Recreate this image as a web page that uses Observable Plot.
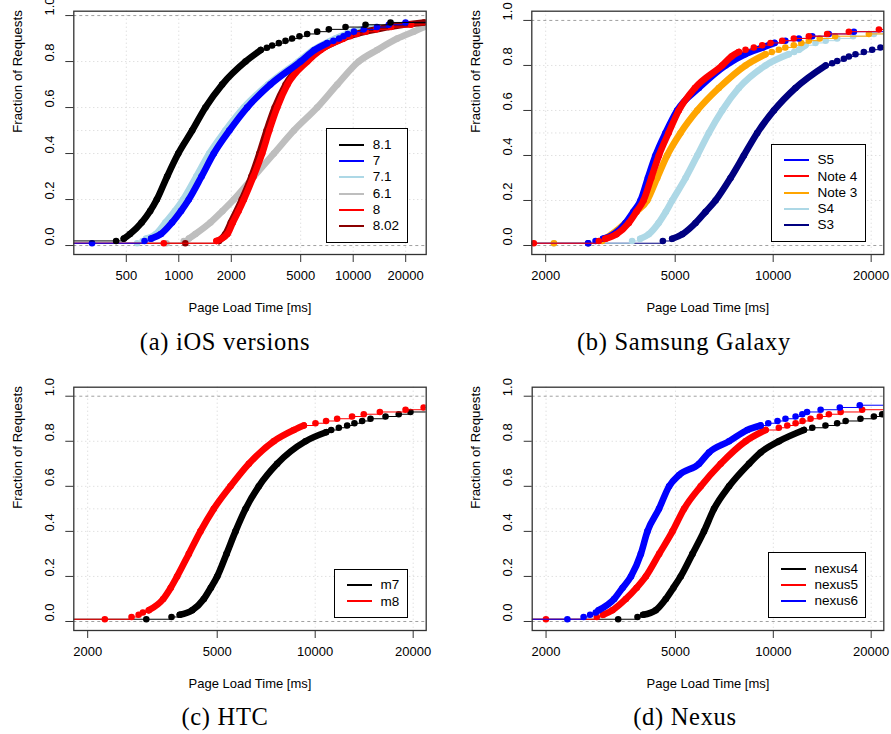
<!DOCTYPE html>
<html><head><meta charset="utf-8">
<script src="https://cdn.jsdelivr.net/npm/d3@7"></script>
<script src="https://cdn.jsdelivr.net/npm/@observablehq/plot@0.6"></script>
<style>
body{margin:0;background:#fff}
#fig{position:relative;width:891px;height:734px;overflow:hidden;background:#fff;font-family:"Liberation Sans",Arial,sans-serif}
.panel{position:absolute}
.legend{position:absolute;border:1px solid #000;background:#fff;box-sizing:border-box}
.legend .sw{position:absolute;height:0;border-top:2.2px solid}
.legend .lb{position:absolute;font-size:13.5px;line-height:1;transform:translateY(-50%);white-space:nowrap;color:#000}
.caption{position:absolute;font-family:"Liberation Serif","Times New Roman",serif;font-size:24.5px;letter-spacing:0.7px;transform:translate(-50%,-50%);white-space:nowrap;color:#000}
</style></head><body><div id="fig"></div><script>
// ---------- tick labels / grid ----------
const xTicksIOS = [500, 1000, 2000, 5000, 10000, 20000];
const xTicksDev = [2000, 5000, 10000, 20000];
const yTicks = [0, 0.2, 0.4, 0.6, 0.8, 1.0];
const yGrid = [0.2, 0.4, 0.5, 0.6, 0.8];

// ---------- (a) iOS versions: [load time ms, fraction] ----------
const ios81 = [[437,0.02],[484,0.03],[525,0.05],[612,0.1],[685,0.15],[748,0.2],[857,0.3],[993,0.4],[1193,0.5],[1421,0.6],[1772,0.7],[2413,0.8],[2950,0.85],[3200,0.86],[3431,0.87],[3746,0.88],[4091,0.89],[4467,0.90],[4921,0.91],[5447,0.92],[6217,0.93],[7252,0.94],[9036,0.95],[11770,0.96],[16370,0.97]];
const ios7 = [[318,0.01],[636,0.02],[694,0.03],[790,0.05],[915,0.1],[1030,0.15],[1141,0.2],[1350,0.3],[1587,0.4],[1950,0.5],[2465,0.6],[3350,0.7],[4986,0.8],[6000,0.85],[7100,0.88],[7700,0.89],[8300,0.90],[8800,0.91],[9300,0.92],[10100,0.93],[11500,0.94],[13700,0.95],[16000,0.96],[19960,0.97]];
const ios71 = [[577,0.01],[620,0.02],[650,0.03],[740,0.05],[838,0.1],[950,0.15],[1059,0.2],[1260,0.3],[1495,0.4],[1850,0.5],[2360,0.6],[3250,0.7],[4850,0.8],[5900,0.85],[7900,0.9],[10000,0.93],[13500,0.95],[17000,0.96]];
const ios61 = [[850,0.01],[1068,0.02],[1141,0.03],[1246,0.05],[1519,0.1],[1780,0.15],[2069,0.2],[2693,0.3],[3508,0.4],[4571,0.5],[6217,0.6],[8111,0.7],[10750,0.8],[13700,0.85],[17920,0.9],[22200,0.93],[25460,0.95]];
const ios8 = [[820,0.01],[1645,0.02],[1900,0.05],[2040,0.1],[2200,0.15],[2360,0.2],[2680,0.3],[3005,0.4],[3300,0.5],[3665,0.6],[4200,0.7],[5450,0.8],[6500,0.85],[7600,0.88],[8800,0.90],[9600,0.91],[10500,0.92],[11800,0.93],[13600,0.94],[16500,0.95],[21500,0.96]];
const ios802 = [[1090,0.01],[1700,0.02],[1850,0.05],[1990,0.1],[2300,0.2],[2610,0.3],[2900,0.4],[3190,0.5],[3550,0.6],[4100,0.7],[5300,0.8],[8700,0.9],[16000,0.95],[25500,0.97]];

// ---------- (b) Samsung Galaxy ----------
const galS5 = [[2700,0.01],[2846,0.02],[3000,0.03],[3240,0.05],[3518,0.1],[3720,0.15],[3913,0.2],[4122,0.3],[4351,0.4],[4669,0.5],[5069,0.6],[5912,0.7],[7138,0.8],[8200,0.85],[9300,0.88],[10100,0.90],[10900,0.91],[11990,0.92],[13180,0.93],[14820,0.94],[17700,0.95]];
const galNote4 = [[1839,0.01],[2913,0.02],[3050,0.03],[3300,0.05],[3600,0.1],[3800,0.15],[3996,0.2],[4220,0.3],[4455,0.4],[4770,0.5],[5128,0.6],[5750,0.7],[6970,0.8],[7450,0.84],[7845,0.86],[8223,0.87],[8722,0.88],[9252,0.89],[9813,0.90],[10660,0.91],[11576,0.92],[12870,0.93],[14650,0.94],[17080,0.95],[21130,0.96]];
const galNote3 = [[2120,0.01],[2982,0.02],[3050,0.03],[3195,0.05],[3518,0.1],[3800,0.15],[4100,0.2],[4400,0.3],[4721,0.4],[5190,0.5],[5845,0.6],[6810,0.7],[8223,0.8],[9472,0.85],[9900,0.86],[10410,0.87],[10900,0.88],[11570,0.89],[12200,0.90],[12870,0.91],[13900,0.92],[15500,0.93],[19680,0.94]];
const galS4 = [[2120,0.01],[3686,0.02],[3905,0.03],[4146,0.05],[4446,0.1],[4680,0.15],[4895,0.2],[5380,0.3],[5845,0.4],[6343,0.5],[6970,0.6],[7845,0.7],[9472,0.8],[11170,0.85],[11600,0.86],[12000,0.87],[12570,0.89],[13490,0.90],[14500,0.91],[15730,0.92],[17600,0.93],[20390,0.94]];
const galS3 = [[2702,0.01],[4581,0.02],[4895,0.03],[5257,0.05],[5773,0.1],[6200,0.15],[6650,0.2],[7395,0.3],[8125,0.4],[8930,0.5],[10050,0.6],[11710,0.7],[14500,0.8],[15180,0.81],[15730,0.82],[16490,0.83],[17090,0.84],[17900,0.85],[18990,0.86],[20150,0.87],[21360,0.88]];

// ---------- (c) HTC ----------
const htcM7 = [[3028,0.01],[3619,0.02],[3838,0.03],[4190,0.05],[4548,0.1],[4780,0.15],[5000,0.2],[5340,0.3],[5690,0.4],[6110,0.5],[6710,0.6],[7640,0.7],[9340,0.8],[10800,0.84],[11200,0.85],[11820,0.86],[12540,0.87],[13200,0.88],[13940,0.89],[14790,0.90],[16450,0.91],[18060,0.92],[19620,0.93]];
const htcM8 = [[2258,0.01],[2728,0.02],[2868,0.03],[2956,0.04],[3083,0.05],[3413,0.1],[3600,0.15],[3765,0.2],[4090,0.3],[4440,0.4],[4880,0.5],[5490,0.6],[6255,0.7],[7460,0.8],[8600,0.85],[9230,0.87],[10020,0.88],[10800,0.89],[11680,0.90],[12980,0.91],[14100,0.92],[15800,0.93],[18950,0.94],[21540,0.95]];

// ---------- (d) Nexus ----------
const nexus4 = [[3333,0.01],[3822,0.02],[3978,0.03],[4350,0.05],[4670,0.1],[4930,0.15],[5190,0.2],[5640,0.3],[6120,0.4],[6570,0.5],[7310,0.6],[8420,0.7],[9140,0.75],[10400,0.8],[12420,0.85],[13180,0.86],[14470,0.87],[15720,0.88],[16690,0.89],[18540,0.90],[20390,0.91],[21620,0.92]];
const nexus5 = [[1998,0.01],[2865,0.02],[2997,0.03],[3200,0.05],[3520,0.1],[3800,0.15],[4055,0.2],[4456,0.3],[4896,0.4],[5315,0.5],[5980,0.6],[6890,0.7],[8220,0.8],[9470,0.85],[10400,0.86],[11040,0.87],[11710,0.88],[12300,0.89],[13020,0.90],[13900,0.91],[14820,0.92],[16110,0.93],[18760,0.94]];
const nexus6 = [[2326,0.01],[2609,0.02],[2733,0.03],[2844,0.04],[2900,0.05],[3240,0.1],[3440,0.15],[3650,0.2],[3914,0.3],[4100,0.4],[4450,0.5],[4780,0.6],[5130,0.65],[5910,0.7],[6340,0.75],[7310,0.8],[8320,0.85],[9140,0.87],[9650,0.88],[10300,0.89],[10900,0.90],[11710,0.91],[12280,0.92],[12700,0.93],[13980,0.94],[16020,0.95],[18450,0.96]];

// ---------- panels (legend order, then draw order) ----------
const panels = [
  {left:0, top:0, width:445, mL:73.3, mR:19.3, xDomain:[250,26220], yDomain:[-0.039,1.019], xTicks:xTicksIOS,
   legend:[["8.1","#000000",ios81],["7","#0000ff",ios7],["7.1","#add8e6",ios71],["6.1","#bebebe",ios61],["8","#ff0000",ios8],["8.02","#8b0000",ios802]],
   draw:[3,2,5,4,1,0], lg:{right:408.3,bottom:242.7,width:82}, caption:"(a) iOS versions", cx:225, cy:341.7},
  {left:445, top:0, width:446, mL:86.3, mR:7.7, xDomain:[1813,21870], yDomain:[-0.04,1.041], xTicks:xTicksDev,
   legend:[["S5","#0000ff",galS5],["Note 4","#ff0000",galNote4],["Note 3","#ffa500",galNote3],["S4","#add8e6",galS4],["S3","#000080",galS3]],
   draw:[4,3,2,0,1], lg:{right:866,bottom:242,width:95}, caption:"(b) Samsung Galaxy", cx:684, cy:341.7},
  {left:0, top:376, width:445, mL:73.3, mR:19.3, xDomain:[1813,21930], yDomain:[-0.04,1.04], xTicks:xTicksDev,
   legend:[["m7","#000000",htcM7],["m8","#ff0000",htcM8]],
   draw:[0,1], lg:{right:408,bottom:618,width:74}, caption:"(c) HTC", cx:225, cy:717.3},
  {left:445, top:376, width:446, mL:86.7, mR:7.7, xDomain:[1813,21870], yDomain:[-0.04,1.04], xTicks:xTicksDev,
   legend:[["nexus4","#000000",nexus4],["nexus5","#ff0000",nexus5],["nexus6","#0000ff",nexus6]],
   draw:[0,1,2], lg:{right:866,bottom:618,width:98}, caption:"(d) Nexus", cx:685, cy:717.3}
];

// split a quantile series into thin step pieces (sparse dots) and thick runs (packed dots)
function buildPaths(pts, xmin, xmax) {
  const thin = [], thick = [];
  let id = 0, mode = null;
  thin.push({x:xmin, y:pts[0][1], z:id}, {x:pts[0][0], y:pts[0][1], z:id});
  for (let i = 0; i < pts.length - 1; i++) {
    const [x0, y0] = pts[i], [x1, y1] = pts[i + 1];
    const m = (y1 - y0) > 0.015 ? "thick" : "thin";
    if (m !== mode) { id++; mode = m; (m === "thick" ? thick : thin).push({x:x0, y:y0, z:id}); }
    if (m === "thick") thick.push({x:x1, y:y1, z:id});
    else thin.push({x:x1, y:y0, z:id}, {x:x1, y:y1, z:id});
  }
  const [xl, yl] = pts[pts.length - 1];
  id++;
  thin.push({x:xl, y:yl, z:id}, {x:xmax, y:yl, z:id});
  return {thin, thick};
}

const fig = document.getElementById("fig");
const H = 330, MT = 10.7, MB = 76;

for (const p of panels) {
  const marks = [
    Plot.ruleX(p.xTicks, {stroke:"#d3d3d3", strokeDasharray:"1,3"}),
    Plot.ruleY(yGrid, {stroke:"#d3d3d3", strokeDasharray:"1,3"}),
    Plot.ruleY([0, 1], {stroke:"#a0a0a0", strokeDasharray:"3,3"})
  ];
  for (const k of p.draw) {
    const [name, color, data] = p.legend[k];
    const {thin, thick} = buildPaths(data, p.xDomain[0], p.xDomain[1]);
    marks.push(Plot.line(thin, {x:"x", y:"y", z:"z", stroke:color, strokeWidth:1, clip:true}));
    marks.push(Plot.line(thick, {x:"x", y:"y", z:"z", stroke:color, strokeWidth:6.6, strokeLinecap:"round", strokeLinejoin:"round", curve:"monotone-x", clip:true}));
    marks.push(Plot.dot(data, {x:d => d[0], y:d => d[1], r:3.3, fill:color, clip:true}));
  }
  marks.push(
    Plot.frame({stroke:"#333", strokeWidth:1.3}),
    Plot.axisX({ticks:p.xTicks, tickSize:8, tickFormat:() => "", label:null, stroke:"#333"}),
    Plot.axisY({ticks:yTicks, tickSize:8, tickFormat:() => "", label:null, stroke:"#333"}),
    Plot.text(p.xTicks, {x:d => d, frameAnchor:"bottom", dy:25.5, text:d => String(d), fontSize:13, fill:"#000"}),
    Plot.text(yTicks, {y:d => d, frameAnchor:"left", dx:-24, rotate:-90, text:d => d.toFixed(1), fontSize:13, fill:"#000"}),
    Plot.text(["Fraction of Requests"], {frameAnchor:"left", dx:-56, rotate:-90, text:d => d, fontSize:13.3, fill:"#000"}),
    Plot.text(["Page Load Time [ms]"], {frameAnchor:"bottom", dy:57, text:d => d, fontSize:13, fill:"#000"})
  );
  const chart = Plot.plot({
    width:p.width, height:H,
    marginLeft:p.mL, marginRight:p.mR, marginTop:MT, marginBottom:MB,
    x:{type:"log", domain:p.xDomain},
    y:{domain:p.yDomain},
    style:{fontFamily:'"Liberation Sans", Arial, sans-serif', fontSize:"13px", background:"transparent", overflow:"visible", color:"#000"},
    marks
  });
  const wrap = document.createElement("div");
  wrap.className = "panel";
  wrap.style.left = p.left + "px";
  wrap.style.top = p.top + "px";
  wrap.appendChild(chart);
  fig.appendChild(wrap);

  // legend
  const n = p.legend.length, rowH = 16.3, first = 16.7;
  const hgt = first + (n - 1) * rowH + 16.5;
  const lg = document.createElement("div");
  lg.className = "legend";
  lg.style.left = (p.lg.right - p.lg.width) + "px";
  lg.style.top = (p.lg.bottom - hgt) + "px";
  lg.style.width = p.lg.width + "px";
  lg.style.height = hgt + "px";
  p.legend.forEach(([name, color], i) => {
    const y = first + i * rowH - 1;
    const sw = document.createElement("div");
    sw.className = "sw";
    sw.style.left = "11.5px"; sw.style.width = "25.5px"; sw.style.top = (y - 1.1) + "px";
    sw.style.borderTopColor = color;
    const lb = document.createElement("div");
    lb.className = "lb";
    lb.style.left = "45.5px"; lb.style.top = y + "px";
    lb.textContent = name;
    lg.appendChild(sw); lg.appendChild(lb);
  });
  fig.appendChild(lg);

  const cap = document.createElement("div");
  cap.className = "caption";
  cap.style.left = p.cx + "px";
  cap.style.top = p.cy + "px";
  cap.textContent = p.caption;
  fig.appendChild(cap);
}
</script></body></html>
